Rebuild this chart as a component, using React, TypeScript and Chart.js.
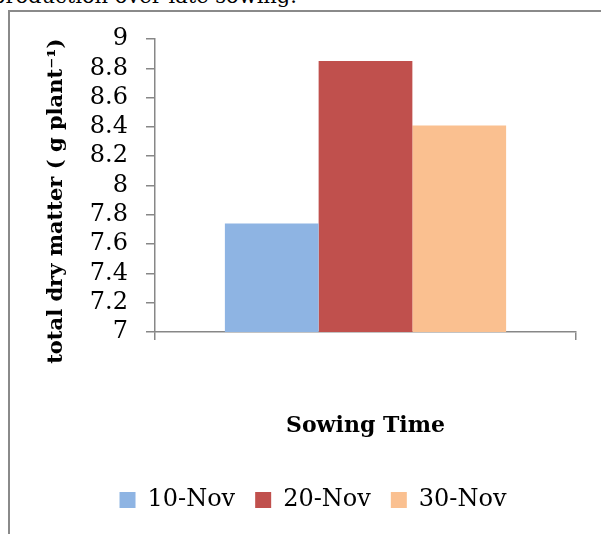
import React, { useEffect, useRef } from "react";
import { Chart, registerables } from "chart.js";

Chart.register(...registerables);

const categories = [""];
const seriesNames = ["10-Nov", "20-Nov", "30-Nov"];
const seriesValues = [7.74, 8.85, 8.41];
const seriesColors = ["#8EB4E3", "#C0504D", "#FAC090"];
const yMin = 7;
const yMax = 9;
const yStep = 0.2;
const yTitle = "total dry matter ( g plant⁻¹)\u2003\u2002";
const xTitle = "Sowing Time";
const captionText = "production over late sowing.";

const AXIS = "#878787";
const FONT = "'DejaVu Serif', serif";

export default function App() {
  const ref = useRef<HTMLCanvasElement>(null);

  useEffect(() => {
    const chart = new Chart(ref.current as HTMLCanvasElement, {
      type: "bar",
      data: {
        labels: categories,
        datasets: seriesNames.map((name, i) => ({
          label: name,
          data: [seriesValues[i]],
          backgroundColor: seriesColors[i],
          borderWidth: 0,
          barPercentage: 1,
          categoryPercentage: 0.668,
        })),
      },
      options: {
        responsive: false,
        animation: false,
        layout: { padding: { left: 50, right: 25, top: 39, bottom: 12 } },
        plugins: {
          legend: {
            position: "bottom",
            labels: {
              boxWidth: 16,
              boxHeight: 16,
              padding: 20,
              color: "#000",
              font: { family: FONT, size: 24 },
            },
          },
          tooltip: { enabled: false },
        },
        scales: {
          x: {
            grid: {
              display: true,
              drawOnChartArea: false,
              drawTicks: true,
              tickLength: 8,
              color: AXIS,
              lineWidth: 1.5,
              offset: true,
            },
            border: { display: true, color: AXIS, width: 1.5 },
            ticks: { display: false },
            title: {
              display: true,
              text: xTitle,
              color: "#000",
              font: { family: FONT, size: 22, weight: "bold" },
              padding: { top: 0, bottom: 29 },
            },
            afterFit: (s: any) => {
              s.height = 136;
            },
          },
          y: {
            min: yMin,
            max: yMax,
            ticks: {
              stepSize: yStep,
              autoSkip: false,
              padding: 18,
              color: "#000",
              font: { family: FONT, size: 24 },
              callback: (v: any) => String(Number(Number(v).toFixed(1))),
            },
            grid: {
              display: true,
              drawOnChartArea: false,
              drawTicks: true,
              tickLength: 9,
              color: AXIS,
              lineWidth: 1.5,
            },
            border: { display: true, color: AXIS, width: 1.5 },
            title: {
              display: true,
              text: yTitle,
              color: "#000",
              font: { family: FONT, size: 21, weight: "bold", lineHeight: 1 },
              padding: { top: -4, bottom: 0 },
            },
            afterFit: (s: any) => {
              s.width = 105;
            },
          },
        },
      },
    });
    return () => chart.destroy();
  }, []);

  return (
    <div
      style={{
        position: "fixed",
        left: 0,
        top: 0,
        width: 601,
        height: 534,
        overflow: "hidden",
        background: "#fff",
      }}
    >
      <div
        style={{
          position: "absolute",
          right: 304,
          top: -14,
          font: `21px ${FONT}`,
          lineHeight: "21px",
          whiteSpace: "nowrap",
          color: "#000",
        }}
      >
        {captionText}
      </div>
      <div
        style={{
          position: "absolute",
          left: 8,
          top: 10,
          width: 800,
          height: 800,
          borderLeft: "2px solid #8a8a8a",
          borderTop: "2px solid #8a8a8a",
        }}
      />
      <canvas
        ref={ref}
        width={601}
        height={534}
        style={{ position: "absolute", left: 0, top: 0, width: 601, height: 534 }}
      />
    </div>
  );
}
